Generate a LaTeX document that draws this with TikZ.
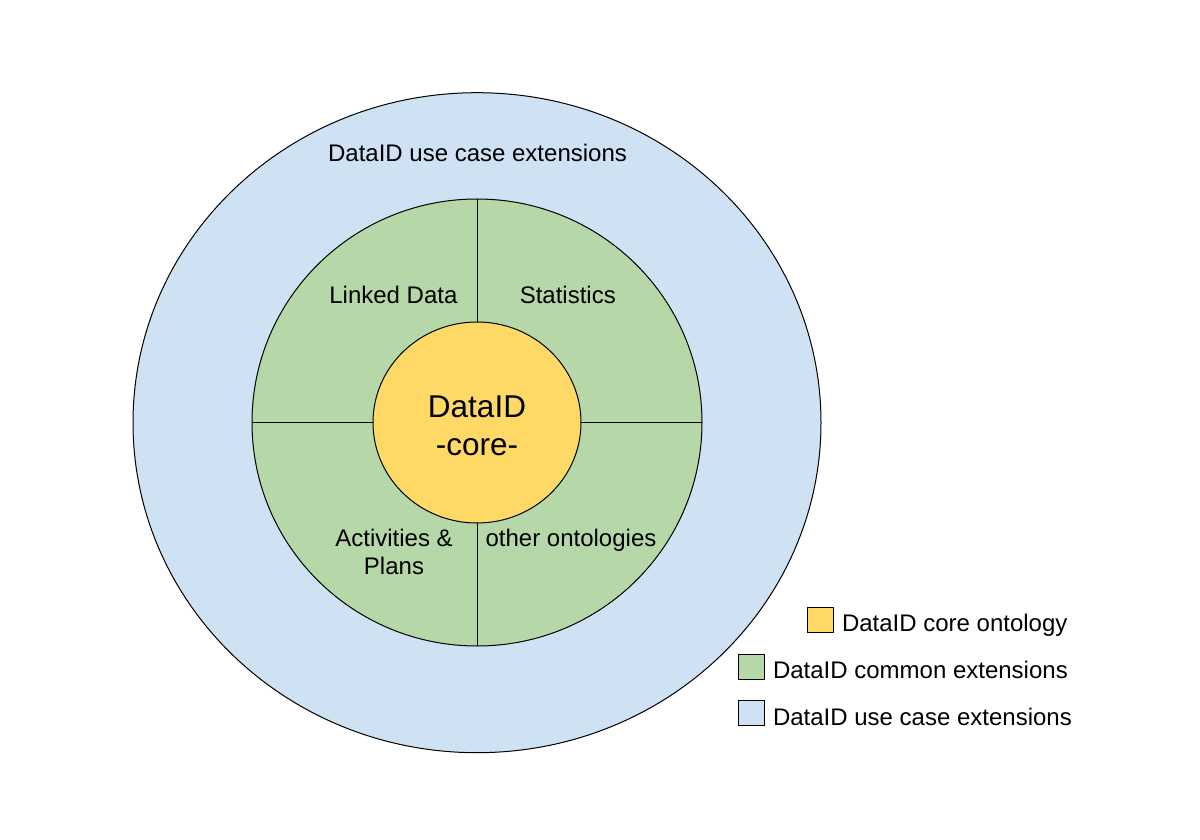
\documentclass[tikz,border=0pt]{standalone}
\usepackage{fontspec}
\setmainfont{Liberation Sans}
\usepackage{tikz}
\usetikzlibrary{shapes.geometric, positioning}
\definecolor{usecaseblue}{RGB}{207,226,243}
\definecolor{commongreen}{RGB}{182,215,168}
\definecolor{coreyellow}{RGB}{255,217,102}

\begin{document}
\begin{tikzpicture}[
  x=1pt, y=-1pt,
  ring/.style={ellipse, draw=black, line width=1pt, fill=#1, inner sep=0pt, outer sep=0pt},
  divider/.style={draw=black, line width=1pt},
  lbl/.style={font=\fontsize{24}{28.3}\selectfont, inner sep=0pt},
  swatch/.style={rectangle, draw=black, line width=1pt, fill=#1, inner sep=0pt,
                 minimum width=26pt, minimum height=25pt},
  legtxt/.style={font=\fontsize{24}{28.3}\selectfont, inner sep=0pt},
]
  \useasboundingbox (0,0) rectangle (1200,840);

  % Rings
  \node[ring=usecaseblue, minimum width=688pt, minimum height=660pt] (usecase) at (477,422.7) {};
  \node[ring=commongreen, minimum width=450pt, minimum height=447pt] (common) at (477,422.5) {};
  \node[ring=coreyellow, minimum width=208pt, minimum height=201pt] (core) at (477,422.5) {};
  \node[inner sep=0pt, font=\fontsize{31.5}{38}\selectfont, align=center]
    (corelbl) at ([yshift=-3pt]core.center) {DataID\\-core-};

  % Dividers
  \draw[divider] (common.north) -- (core.north);
  \draw[divider] (common.south) -- (core.south);
  \draw[divider] (common.west) -- (core.west);
  \draw[divider] (common.east) -- (core.east);

  % Labels
  \node[lbl, anchor=base] (usecaselbl) at (477.5,161) {DataID use case extensions};
  \node[lbl, anchor=base] (linkedlbl) at (393.4,303.3) {Linked Data};
  \node[lbl, anchor=base] (statslbl) at (567.8,303.3) {Statistics};
  \node[lbl, align=center] (activlbl) at (394,552) {Activities \&\\Plans};
  \node[lbl, anchor=base] (otherlbl) at (571,546.5) {other ontologies};

  % Legend
  \node[swatch=coreyellow]  (coresw)    at (820.3,619.8) {};
  \node[swatch=commongreen] (commonsw)  at (751.3,666.8) {};
  \node[swatch=usecaseblue] (usecasesw) at (751.3,713)   {};
  \node[legtxt, right=8pt of coresw.south east, anchor=base west, yshift=1pt] (coretxt) {DataID core ontology};
  \node[legtxt, right=8pt of commonsw.south east, anchor=base west, yshift=1pt] (commontxt) {DataID common extensions};
  \node[legtxt, right=8pt of usecasesw.south east, anchor=base west, yshift=1pt] (usecasetxt) {DataID use case extensions};
\end{tikzpicture}
\end{document}
